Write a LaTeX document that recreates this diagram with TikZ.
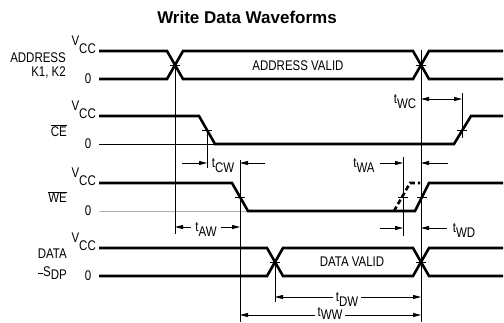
\documentclass[tikz,border=0pt]{standalone}
\usepackage{fontspec}
\setmainfont{Liberation Sans}
\newfontfamily\lf[FakeStretch=0.82]{Liberation Sans}
\usetikzlibrary{arrows.meta}
\newcommand{\tlab}[1]{t\raisebox{-5pt}{#1}}
\begin{document}
\begin{tikzpicture}[x=1pt,y=-1pt,
  wave/.style={line width=2.6pt},
  thinln/.style={line width=0.8pt},
  tickln/.style={line width=0.6pt},
  dim/.style={line width=0.8pt,-{Triangle[length=8pt,width=4pt]}},
  ddim/.style={line width=0.8pt,{Triangle[length=8pt,width=4pt]}-{Triangle[length=8pt,width=4pt]}},
  lbl/.style={font=\lf\fontsize{14}{14}\selectfont,inner sep=0pt},
  vcc/.style={lbl,anchor=base east},
  zero/.style={lbl,anchor=center},
  tl/.style={lbl,anchor=base}]
\useasboundingbox (0,0) rectangle (504,322);
% title
\node[font=\bfseries\fontsize{17}{18}\selectfont,inner sep=0pt] (title) at (247,17.5) {Write Data Waveforms};

% ---- left labels
\node[lbl,anchor=east] (addr) at (66,57.5) {ADDRESS};
\node[lbl,anchor=east] (kk) at (66,72.5) {K1, K2};
\node[lbl,anchor=east] (ce) at (67,131) {$\overline{\hbox{CE}}$};
\node[lbl,anchor=east] (we) at (67,197) {$\overline{\hbox{WE}}$};
\node[lbl,anchor=east] (data) at (67,254) {DATA};
\node[lbl,anchor=east] (sdp) at (67,273) {\rule[0.3ex]{5pt}{1.4pt}S\raisebox{-3pt}{DP}};

\foreach \y/\n in {51/a,116/c,183/w,248/d}{
  \node[vcc] (vcc\n) at (96,\y-6) {V\raisebox{-8pt}{CC}};
}
\foreach \y/\n in {79/a,144/c,211/w,276/d}{
  \node[zero] (zero\n) at (88,\y) {0};
}

% ---- ADDRESS
\draw[wave] (99,51) -- (167,51) -- (183,79) -- (413,79) -- (429,51) -- (503,51);
\draw[wave] (99,79) -- (167,79) -- (183,51) -- (413,51) -- (429,79) -- (503,79);
\node[lbl] (av) at (298,66) {ADDRESS VALID};
\draw[tickln] (170,65) -- (180,65);
\draw[tickln] (416,65) -- (426,65);

% ---- CE
\draw[thinln] (99,144) -- (215,144);
\draw[wave] (99,116) -- (199,116) -- (215,144) -- (454,144) -- (471,116) -- (503,116);
\draw[tickln] (202,130) -- (212,130);
\draw[tickln] (457,130) -- (467,130);

% ---- WE
\draw[thinln,gray!60] (99,211) -- (248,211);
\draw[wave] (99,183) -- (232,183) -- (248,211) -- (415,211) -- (429,183) -- (503,183);
\draw[wave,dash pattern=on 5pt off 3pt] (394,211) -- (410,183) -- (420,183);
\draw[tickln] (235,197) -- (245,197);
\draw[tickln] (398,197) -- (408,197);
\draw[tickln] (417,197) -- (427,197);

% ---- DATA
\draw[wave] (99,248) -- (267,248) -- (283,276) -- (413,276) -- (429,248) -- (503,248);
\draw[wave] (99,276) -- (267,276) -- (283,248) -- (413,248) -- (429,276) -- (503,276);
\node[lbl] (dv) at (352,262) {DATA VALID};
\draw[tickln] (270,262) -- (280,262);
\draw[tickln] (416,262) -- (426,262);

% ---- reference lines
\draw[thinln] (175,65) -- (175,234);
\draw[thinln] (207,130) -- (207,168);
\draw[thinln] (240,160) -- (240,322);
\draw[thinln] (275,262) -- (275,302);
\draw[thinln] (403,157) -- (403,236);
\draw[thinln] (421,50) -- (421,322);
\draw[thinln] (462,93) -- (462,138);

% ---- timing arrows
\coordinate (wcL) at (421,99); \coordinate (wcR) at (462,99);
\draw[ddim] (wcL) -- (wcR);
\node[tl] (twc) at (405,103) {\tlab{WC}};

\coordinate (cwA) at (182,163); \coordinate (cwB) at (207,163);
\coordinate (cwC) at (265,163); \coordinate (cwD) at (240,163);
\draw[dim] (cwA) -- (cwB);
\draw[dim] (cwC) -- (cwD);
\node[tl] (tcw) at (223,167) {\tlab{CW}};

\coordinate (waA) at (380,163); \coordinate (waB) at (403,163);
\coordinate (waC) at (448,163); \coordinate (waD) at (421,163);
\draw[dim] (waA) -- (waB);
\draw[dim] (waC) -- (waD);
\node[tl] (twa) at (364,167) {\tlab{WA}};

\coordinate (awA) at (191,227); \coordinate (awB) at (175,227);
\coordinate (awC) at (221,227); \coordinate (awD) at (240,227);
\draw[dim] (awA) -- (awB);
\draw[dim] (awC) -- (awD);
\node[tl] (taw) at (206,231) {\tlab{AW}};

\coordinate (wdA) at (380,228); \coordinate (wdB) at (403,228);
\coordinate (wdC) at (447,228); \coordinate (wdD) at (421,228);
\draw[dim] (wdA) -- (wdB);
\draw[dim] (wdC) -- (wdD);
\node[tl] (twd) at (464,232) {\tlab{WD}};

\coordinate (dwL) at (275,297); \coordinate (dwR) at (421,297);
\draw[ddim] (dwL) -- (dwR);
\node[tl,fill=white,inner xsep=3pt,inner ysep=1pt] (tdw) at (347,301) {\tlab{DW}};

\coordinate (wwL) at (240,315); \coordinate (wwR) at (421,315);
\draw[ddim] (wwL) -- (wwR);
\node[tl,fill=white,inner xsep=3pt,inner ysep=0.5pt] (tww) at (330,316) {t\raisebox{-3.5pt}{WW}};
\end{tikzpicture}
\end{document}
